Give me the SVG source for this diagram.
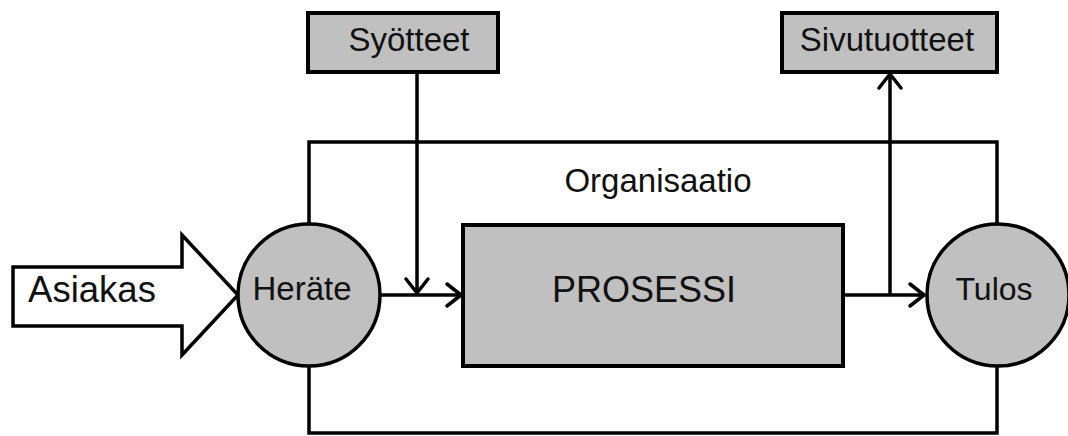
<svg xmlns="http://www.w3.org/2000/svg" width="1068" height="436" viewBox="0 0 1068 436">
<style>
  .box { fill: #c0c0c0; stroke: #000; stroke-width: 4; }
  .circ { fill: #c0c0c0; stroke: #000; stroke-width: 3.5; }
  .line { fill: none; stroke: #000; stroke-width: 3.5; }
  .head { fill: none; stroke: #000; stroke-width: 3.5; stroke-linecap: round; stroke-linejoin: round; }
  .t { font-family: "Liberation Sans", Arial, sans-serif; fill: #111; text-anchor: middle; }
</style>
<rect width="1068" height="436" fill="#fff"/>
<g id="organisaatio">
  <rect x="309" y="142" width="688" height="291" fill="none" stroke="#000" stroke-width="3.5"/>
  <text class="t" x="658" y="192" font-size="33">Organisaatio</text>
</g>
<g id="connectors">
  <path class="line" d="M417 72 V293"/>
  <path class="head" d="M406 279 L417 293 L428 279"/>
  <path class="line" d="M380 295 H461"/>
  <path class="head" d="M447 284 L461 295 L447 306"/>
  <path class="line" d="M843 295 H924"/>
  <path class="head" d="M910 284 L924 295 L910 306"/>
  <path class="line" d="M890 295 V74"/>
  <path class="head" d="M879 88 L890 74 L901 88"/>
</g>
<g id="asiakas">
  <path d="M13 267 H182 V235 L238 295 L182 355 V326 H13 Z" fill="#fff" stroke="#000" stroke-width="3.5" stroke-linejoin="miter"/>
  <text class="t" x="92" y="302" font-size="36.5">Asiakas</text>
</g>
<g id="syotteet">
  <rect class="box" x="308" y="13" width="190" height="59"/>
  <text class="t" x="409" y="51" font-size="33">Syötteet</text>
</g>
<g id="sivutuotteet">
  <rect class="box" x="782" y="13" width="215" height="59"/>
  <text class="t" x="887" y="51" font-size="33">Sivutuotteet</text>
</g>
<g id="herate">
  <circle class="circ" cx="309" cy="295" r="71"/>
  <text class="t" x="302" y="300" font-size="33">Heräte</text>
</g>
<g id="prosessi">
  <rect class="box" x="463" y="225" width="380" height="141"/>
  <text class="t" x="644" y="302" font-size="36">PROSESSI</text>
</g>
<g id="tulos">
  <circle class="circ" cx="998" cy="295" r="71"/>
  <text class="t" x="994" y="300" font-size="32">Tulos</text>
</g>
</svg>
